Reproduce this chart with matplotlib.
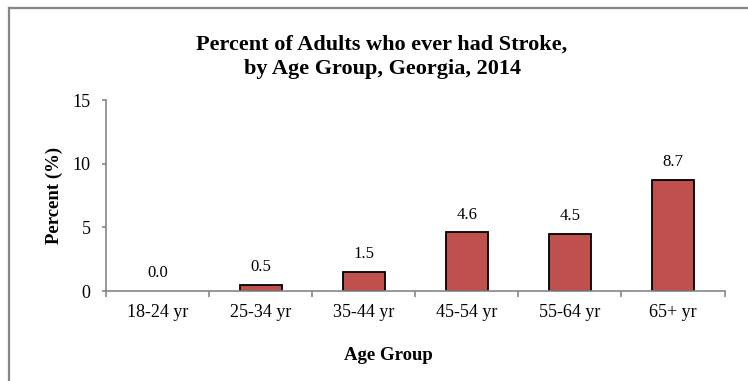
import matplotlib.pyplot as plt
from matplotlib.lines import Line2D

groups = ['18-24 yr', '25-34 yr', '35-44 yr', '45-54 yr', '55-64 yr', '65+ yr']
percent = [0.0, 0.5, 1.5, 4.6, 4.5, 8.7]

plt.rcParams['font.family'] = 'Liberation Serif'
axis_grey = '#868686'

fig = plt.figure(figsize=(7.48, 3.81), dpi=100)
ax = fig.add_axes([0.1417, 0.2362, 0.827, 0.5013])

x = range(len(groups))
# zero-height bars get no outline so they don't sit on the axis line
edge_w = [0 if v == 0 else 1.3 for v in percent]
ax.bar(x, percent, width=0.41, color='#C0504D', edgecolor='black', linewidth=edge_w)

for xi, v in zip(x, percent):
    ax.annotate(f'{v:.1f}', (xi, v), xytext=(0, 10), textcoords='offset points',
                ha='center', va='baseline', fontsize=12)

ax.set_xlim(-0.5, len(groups) - 0.5)
ax.set_ylim(0, 15)
ax.set_yticks([0, 5, 10, 15])
ax.set_xticks(x)
ax.set_xticklabels(groups, fontsize=13)
ax.tick_params(axis='y', labelsize=13, direction='out', length=3, width=1.2,
               color=axis_grey, pad=8)
ax.tick_params(axis='x', length=0, pad=9)
# ticks between categories
ax.set_xticks([i + 0.5 for i in range(-1, len(groups))], minor=True)
ax.tick_params(axis='x', which='minor', direction='out', length=4, color=axis_grey, width=1.2)

for side in ['top', 'right']:
    ax.spines[side].set_visible(False)
for side in ['left', 'bottom']:
    ax.spines[side].set_color(axis_grey)
    ax.spines[side].set_linewidth(1.2)

fig.text(0.5187, 0.055, 'Age Group', ha='center', va='baseline',
         fontsize=13.5, fontweight='bold')
fig.text(0.0729, 0.488, 'Percent (%)', ha='center', va='center', rotation=90,
         fontsize=13.5, fontweight='bold')

fig.text(0.510, 0.8688, 'Percent of Adults who ever had Stroke,', ha='center', va='baseline',
         fontsize=16, fontweight='bold')
fig.text(0.512, 0.8058, 'by Age Group, Georgia, 2014', ha='center', va='baseline',
         fontsize=16, fontweight='bold')

# chart frame edges
fig.add_artist(Line2D([0.012, 0.012], [0, 0.979], color=axis_grey, lw=1.6))
fig.add_artist(Line2D([0.012, 1.0], [0.979, 0.979], color=axis_grey, lw=1.6))

plt.savefig('out.png', dpi=100)
